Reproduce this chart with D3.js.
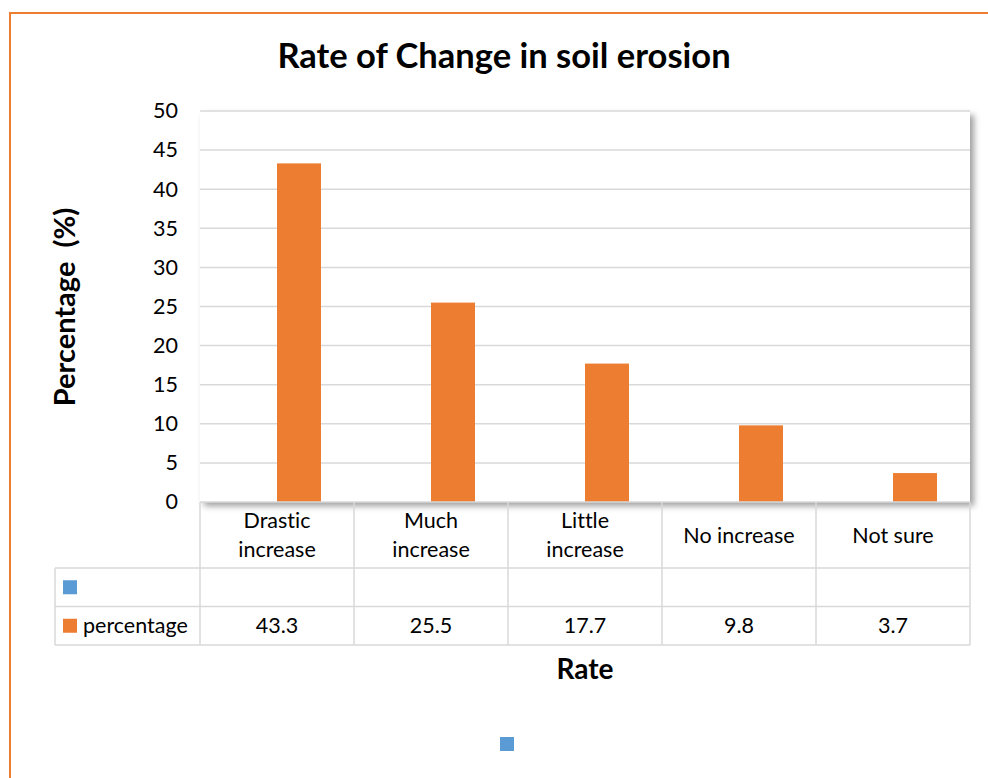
<!DOCTYPE html>
<html>
<head>
<meta charset="utf-8">
<script src="https://cdn.jsdelivr.net/npm/d3@7/dist/d3.min.js"></script>
<style>
  html, body { margin: 0; padding: 0; background: #fff; }
  svg { display: block; }
  text { font-family: Lato, "Open Sans", sans-serif; fill: #000; font-variant-ligatures: none; font-feature-settings: "liga" 0; }
</style>
</head>
<body>
<svg id="chart" width="988" height="778"></svg>
<script>
// ---- data ----
const categories = ["Drastic increase", "Much increase", "Little increase", "No increase", "Not sure"];
const seriesNames = ["", "percentage"];
const blankValues = [null, null, null, null, null];
const percentageValues = [43.3, 25.5, 17.7, 9.8, 3.7];
const yTicks = [0, 5, 10, 15, 20, 25, 30, 35, 40, 45, 50];
const titleText = "Rate of Change in soil erosion";
const yTitle = "Percentage  (%)";
const xTitle = "Rate";

const seriesColors = ["#5B9BD5", "#ED7D31"];
const seriesValues = [blankValues, percentageValues];

const svg = d3.select("#chart");

// frame (top and left orange border)
svg.append("path")
  .attr("d", "M10,778 L10,13 L988,13")
  .attr("fill", "none")
  .attr("stroke", "#ED7D31")
  .attr("stroke-width", 2);

// layout
const plot = { left: 200, right: 970, top: 111, bottom: 502 };

const x = d3.scaleBand().domain(categories).range([plot.left, plot.right]).paddingInner(0).paddingOuter(0);
const xs = d3.scaleBand().domain(seriesNames.map((d, i) => i)).range([0, x.bandwidth()]).paddingInner(0).paddingOuter(0.75);
const y = d3.scaleLinear().domain([0, 50]).range([plot.bottom, plot.top]);

// shadow filter
const defs = svg.append("defs");
const f = defs.append("filter").attr("id", "shadow").attr("x", "-5%").attr("y", "-5%").attr("width", "115%").attr("height", "115%");
f.append("feDropShadow").attr("dx", 4).attr("dy", 4).attr("stdDeviation", 3).attr("flood-color", "#000").attr("flood-opacity", 0.38);

svg.append("rect")
  .attr("x", plot.left).attr("y", plot.top)
  .attr("width", plot.right - plot.left).attr("height", plot.bottom - plot.top)
  .attr("fill", "#fff")
  .attr("filter", "url(#shadow)");

// gridlines
svg.append("g")
  .selectAll("line").data(yTicks.filter(d => d > 0)).join("line")
  .attr("x1", plot.left).attr("x2", plot.right)
  .attr("y1", d => y(d)).attr("y2", d => y(d))
  .attr("stroke", "#d9d9d9").attr("stroke-width", 1.5);

// y axis tick labels
const yAxis = d3.axisLeft(y).tickValues(yTicks).tickSize(0).tickPadding(22);
const yg = svg.append("g").attr("transform", `translate(${plot.left},0)`).call(yAxis);
yg.select(".domain").remove();
yg.selectAll("text").attr("font-family", "Lato, sans-serif").attr("font-size", 21.5).attr("fill", "#000");

// bars
seriesValues.forEach((vals, si) => {
  svg.append("g").selectAll("rect")
    .data(categories.map((c, i) => ({ c, v: vals[i] })).filter(d => d.v != null))
    .join("rect")
    .attr("x", d => x(d.c) + xs(si))
    .attr("width", xs.bandwidth())
    .attr("y", d => y(d.v))
    .attr("height", d => y(0) - y(d.v))
    .attr("fill", seriesColors[si]);
});

// data table
const tbl = { left: 55, headerBottom: 568, rowH: 38.5 };
const rows = seriesNames.map((n, i) => ({ name: n, vals: seriesValues[i], color: seriesColors[i], top: tbl.headerBottom + i * tbl.rowH }));
const tableBottom = tbl.headerBottom + rows.length * tbl.rowH;
const grid = svg.append("g").attr("stroke", "#d9d9d9").attr("stroke-width", 1.5);
const edges = categories.map(c => x(c)).concat([plot.right]);
grid.selectAll("line.v").data(edges).join("line").attr("class", "v")
  .attr("x1", d => d).attr("x2", d => d).attr("y1", plot.bottom).attr("y2", tableBottom);
grid.append("line").attr("x1", tbl.left).attr("x2", tbl.left).attr("y1", tbl.headerBottom).attr("y2", tableBottom);
[tbl.headerBottom].concat(rows.map(r => r.top + tbl.rowH)).forEach(yy => {
  grid.append("line").attr("x1", tbl.left).attr("x2", plot.right).attr("y1", yy).attr("y2", yy);
});
grid.append("line").attr("x1", plot.left).attr("x2", plot.right).attr("y1", plot.bottom).attr("y2", plot.bottom);

// header labels (wrapped)
const headerG = svg.append("g");
categories.forEach(c => {
  const t = headerG.append("text").attr("text-anchor", "middle").attr("font-size", 21.5)
    .attr("x", x(c) + x.bandwidth() / 2);
  t.text(c);
  let lines = [c];
  if (t.node().getComputedTextLength() > 128) lines = c.split(" ");
  t.text(null);
  const cy = (plot.bottom + tbl.headerBottom) / 2;
  const lh = 28.5;
  lines.forEach((ln, i) => {
    t.append("tspan").attr("x", x(c) + x.bandwidth() / 2)
      .attr("y", cy + (i - (lines.length - 1) / 2) * lh)
      .attr("dy", "0.35em").text(ln);
  });
});

// rows
rows.forEach(r => {
  const cy = r.top + tbl.rowH / 2;
  svg.append("rect").attr("x", 63).attr("y", cy - 7).attr("width", 14).attr("height", 14).attr("fill", r.color);
  svg.append("text").attr("x", 83).attr("y", cy).attr("dy", "0.35em").attr("font-size", 21.5).text(r.name);
  categories.forEach((c, i) => {
    if (r.vals[i] == null) return;
    svg.append("text").attr("x", x(c) + x.bandwidth() / 2).attr("y", cy).attr("dy", "0.35em")
      .attr("text-anchor", "middle").attr("font-size", 21.5).text(r.vals[i]);
  });
});

// title
svg.append("text").attr("x", 504).attr("y", 68).attr("text-anchor", "middle")
  .attr("font-size", 34.5).attr("font-weight", "bold").text(titleText);

// y title
svg.append("text").attr("transform", `translate(75,307) rotate(-90)`)
  .attr("text-anchor", "middle").attr("font-size", 29).attr("font-weight", "bold")
  .style("white-space", "pre").text(yTitle);

// x title
svg.append("text").attr("x", 585).attr("y", 679).attr("text-anchor", "middle")
  .attr("font-size", 28).attr("font-weight", "bold").text(xTitle);

// bottom legend (blank series)
svg.append("rect").attr("x", 500).attr("y", 737).attr("width", 14).attr("height", 14).attr("fill", seriesColors[0]);
</script>
</body>
</html>
